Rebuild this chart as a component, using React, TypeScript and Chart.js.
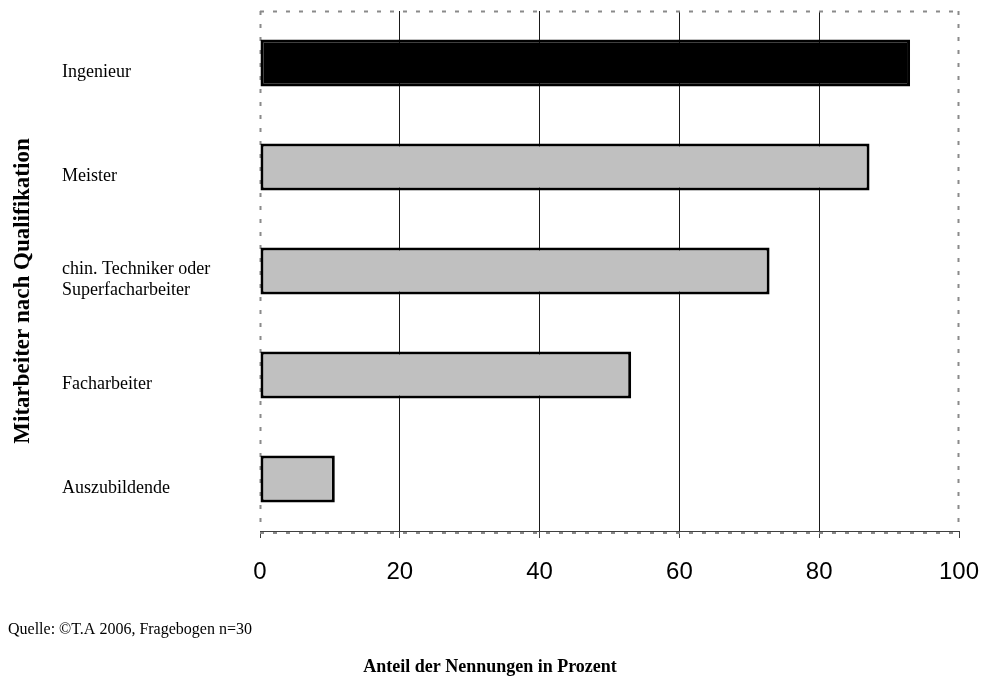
import React, { useEffect, useRef } from "react";
import { Chart, registerables } from "chart.js";

Chart.register(...registerables);

const categories: (string | string[])[] = [
  "Ingenieur",
  "Meister",
  ["chin. Techniker oder", "Superfacharbeiter"],
  "Facharbeiter",
  "Auszubildende",
];
const values: number[] = [93.0, 87.2, 72.9, 53.1, 10.7];
const fillColors: string[] = ["#000000", "#c0c0c0", "#c0c0c0", "#c0c0c0", "#c0c0c0"];
const xTitle = "Anteil der Nennungen in Prozent";
const yTitle = "Mitarbeiter nach Qualifikation";
const sourceNote = "Quelle: \u00A9T.A 2006, Fragebogen n=30";

const SERIF = '"Liberation Serif", "Times New Roman", serif';
const SANS = '"Liberation Sans", Arial, sans-serif';

const decorPlugin = {
  id: "decor",
  beforeDatasetsDraw(chart: any) {
    const { ctx, chartArea } = chart;
    const { left, right, top, bottom } = chartArea;
    ctx.save();
    ctx.strokeStyle = "#8a8a8a";
    ctx.lineWidth = 2;
    ctx.setLineDash([4, 9]);
    ctx.beginPath();
    ctx.moveTo(left, top + 0.5);
    ctx.lineTo(right, top + 0.5);
    ctx.moveTo(right - 0.5, top);
    ctx.lineTo(right - 0.5, bottom);
    ctx.moveTo(left + 0.5, top);
    ctx.lineTo(left + 0.5, bottom);
    ctx.moveTo(left, bottom + 2);
    ctx.lineTo(right, bottom + 2);
    ctx.stroke();
    ctx.restore();
  },
  afterDraw(chart: any) {
    const { ctx } = chart;
    ctx.save();
    ctx.fillStyle = "#000";
    ctx.font = "bold 23px " + SERIF;
    ctx.textAlign = "center";
    ctx.textBaseline = "middle";
    ctx.translate(23, 291);
    ctx.rotate(-Math.PI / 2);
    ctx.fillText(yTitle, 0, 0);
    ctx.restore();

    ctx.save();
    ctx.fillStyle = "#000";
    ctx.font = "bold 18px " + SERIF;
    ctx.textAlign = "center";
    ctx.textBaseline = "middle";
    ctx.fillText(xTitle, 490, 667);
    ctx.font = "16px " + SERIF;
    ctx.textAlign = "left";
    ctx.fillText(sourceNote, 8, 630);
    ctx.restore();
  },
};

export default function App() {
  const ref = useRef<HTMLCanvasElement | null>(null);

  useEffect(() => {
    if (!ref.current) return;
    const chart = new Chart(ref.current, {
      type: "bar",
      data: {
        labels: categories,
        datasets: [
          {
            data: values,
            backgroundColor: fillColors,
            borderColor: "#000",
            borderWidth: 3,
            borderSkipped: false,
            barPercentage: 0.45,
            categoryPercentage: 1,
          },
        ],
      },
      options: {
        indexAxis: "y",
        animation: false,
        responsive: false,
        layout: { padding: { top: 11, right: 26, left: 62, bottom: 0 } },
        plugins: {
          legend: { display: false },
          tooltip: { enabled: false },
          title: { display: false },
        },
        scales: {
          x: {
            min: 0,
            max: 100,
            ticks: {
              stepSize: 20,
              color: "#000",
              padding: 20,
              font: { family: SANS, size: 24 },
            },
            grid: {
              color: (c: any) =>
                c.tick && (c.tick.value === 0 || c.tick.value === 100)
                  ? "rgba(0,0,0,0)"
                  : "#1a1a1a",
              lineWidth: 1,
              tickColor: "#404040",
              tickLength: 7,
            },
            border: { display: true, color: "#404040", width: 1 },
            afterFit: (scale: any) => {
              scale.height = 151;
              scale.paddingLeft = 0;
              scale.paddingRight = 0;
            },
          },
          y: {
            ticks: {
              crossAlign: "far",
              color: "#000",
              labelOffset: 9,
              font: { family: SERIF, size: 18, lineHeight: 1.17 },
            },
            grid: { display: false },
            border: { display: false },
            afterFit: (scale: any) => {
              scale.width = 198;
              scale.paddingTop = 0;
              scale.paddingBottom = 0;
            },
          },
        },
      },
      plugins: [decorPlugin],
    } as any);
    return () => chart.destroy();
  }, []);

  return (
    <div style={{ position: "fixed", left: 0, top: 0, width: 985, height: 682, background: "#fff" }}>
      <canvas ref={ref} width={985} height={682} />
    </div>
  );
}
